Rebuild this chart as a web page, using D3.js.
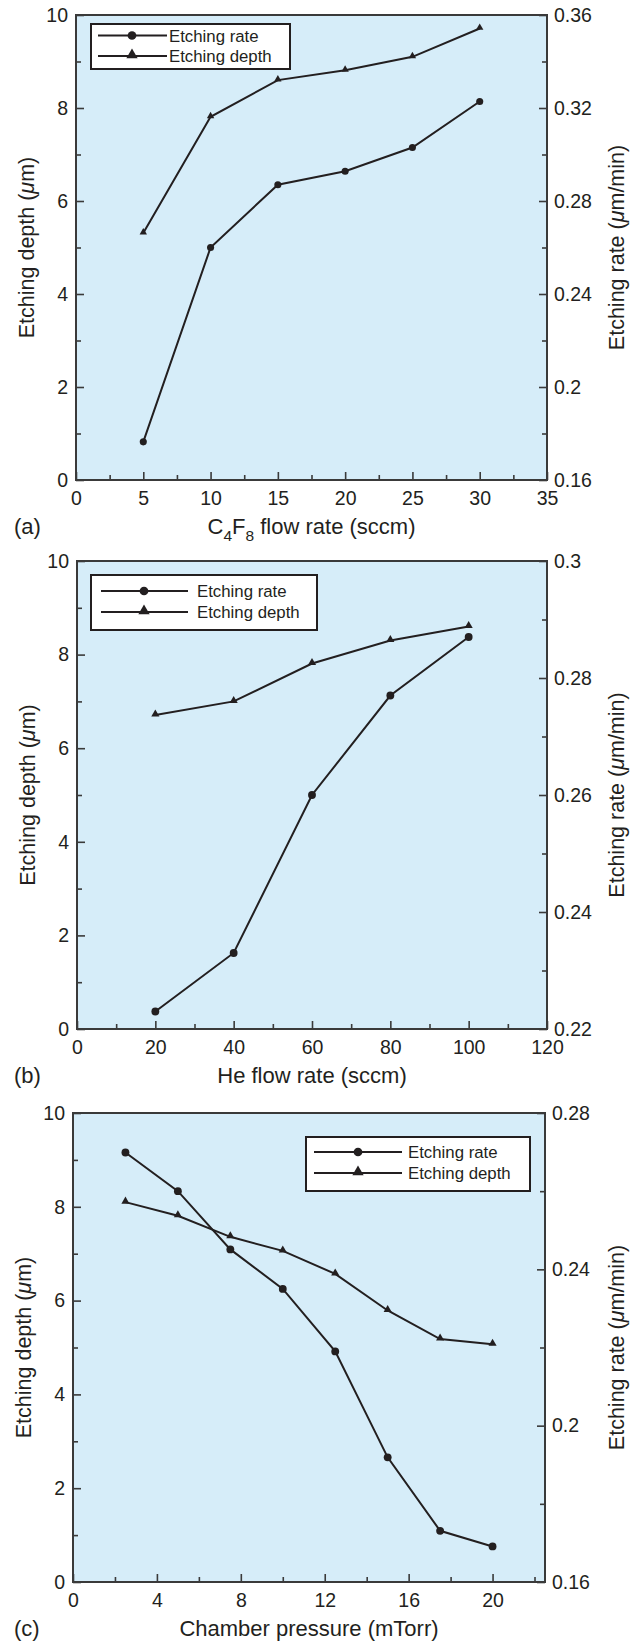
<!DOCTYPE html>
<html>
<head>
<meta charset="utf-8">
<script src="https://cdn.jsdelivr.net/npm/d3@7"></script>
<style>
  html, body { margin: 0; padding: 0; background: #ffffff; }
  svg { display: block; }
  text { font-family: "Liberation Sans", Arial, sans-serif; fill: #231f20; }
</style>
</head>
<body>
<svg id="chart" width="638" height="1642"></svg>
<script>
// ---------------- DATA ----------------
const panelLabels = ["(a)", "(b)", "(c)"];
const seriesNames = ["Etching rate", "Etching depth"];

// (a) C4F8 flow rate
const aFlow  = [5, 10, 15, 20, 25, 30];
const aDepth = [5.31, 7.81, 8.60, 8.81, 9.10, 9.71];          // µm (left axis)
const aRate  = [0.1764, 0.260, 0.287, 0.2928, 0.303, 0.3228]; // µm/min (right axis)

// (b) He flow rate
const bFlow  = [20, 40, 60, 80, 100];
const bDepth = [6.71, 7.00, 7.81, 8.30, 8.60];
const bRate  = [0.223, 0.233, 0.260, 0.277, 0.287];

// (c) Chamber pressure
const cPressure = [2.5, 5, 7.5, 10, 12.5, 15, 17.5, 20];
const cDepth    = [8.10, 7.81, 7.36, 7.06, 6.57, 5.79, 5.18, 5.07];
const cRate     = [0.2699, 0.260, 0.2451, 0.235, 0.219, 0.1919, 0.1731, 0.1691];

// ticks
const depthMajor = [0, 2, 4, 6, 8, 10];
const depthMinor = [1, 3, 5, 7, 9];

const aXMajor = [0, 5, 10, 15, 20, 25, 30, 35];
const aXMinor = [2.5, 7.5, 12.5, 17.5, 22.5, 27.5, 32.5];
const aRMajor = [0.16, 0.20, 0.24, 0.28, 0.32, 0.36];
const aRLabels = ["0.16", "0.2", "0.24", "0.28", "0.32", "0.36"];
const aRMinor = [0.18, 0.22, 0.26, 0.30, 0.34];

const bXMajor = [0, 20, 40, 60, 80, 100, 120];
const bXMinor = [10, 30, 50, 70, 90, 110];
const bRMajor = [0.22, 0.24, 0.26, 0.28, 0.30];
const bRLabels = ["0.22", "0.24", "0.26", "0.28", "0.3"];
const bRMinor = [0.23, 0.25, 0.27, 0.29];

const cXMajor = [0, 4, 8, 12, 16, 20];
const cXMinor = [2, 6, 10, 14, 18, 22];
const cRMajor = [0.16, 0.20, 0.24, 0.28];
const cRLabels = ["0.16", "0.2", "0.24", "0.28"];
const cRMinor = [0.18, 0.22, 0.26];

// ---------------- LAYOUT / STYLE ----------------
const ink = "#231f20";
const fillBg = "#d6edf9";

const panels = [
  { label: panelLabels[0], x: aFlow, depth: aDepth, rate: aRate,
    xDomain: [0, 35], rDomain: [0.16, 0.36],
    xMajor: aXMajor, xMinor: aXMinor, rMajor: aRMajor, rLabels: aRLabels, rMinor: aRMinor,
    xTitle: "C4F8", box: {l: 76, r: 547, t: 15, b: 480},
    legend: {x: 91, y: 24, w: 199, h: 45, lx0: 98, lx1: 167, mx: 132, tx: 169, row0: 35.5, row1: 56},
    ms: 0.9 },
  { label: panelLabels[1], x: bFlow, depth: bDepth, rate: bRate,
    xDomain: [0, 120], rDomain: [0.22, 0.30],
    xMajor: bXMajor, xMinor: bXMinor, rMajor: bRMajor, rLabels: bRLabels, rMinor: bRMinor,
    xTitle: "He flow rate (sccm)", box: {l: 77, r: 547, t: 561, b: 1029},
    legend: {x: 91, y: 575, w: 226, h: 55, lx0: 101, lx1: 188, mx: 144, tx: 197, row0: 591, row1: 612},
    ms: 1.1 },
  { label: panelLabels[2], x: cPressure, depth: cDepth, rate: cRate,
    xDomain: [0, 22.5], rDomain: [0.16, 0.28],
    xMajor: cXMajor, xMinor: cXMinor, rMajor: cRMajor, rLabels: cRLabels, rMinor: cRMinor,
    xTitle: "Chamber pressure (mTorr)", box: {l: 73, r: 545, t: 1113, b: 1582},
    legend: {x: 306, y: 1137, w: 224, h: 54, lx0: 314, lx1: 402, mx: 358, tx: 408, row0: 1152, row1: 1173},
    ms: 1.1 }
];

const svg = d3.select("#chart");

panels.forEach(p => {
  const {l, r, t, b} = p.box;
  const x = d3.scaleLinear().domain(p.xDomain).range([l, r]);
  const yL = d3.scaleLinear().domain([0, 10]).range([b, t]);
  const yR = d3.scaleLinear().domain(p.rDomain).range([b, t]);

  const g = svg.append("g");

  // background
  g.append("rect").attr("x", l).attr("y", t).attr("width", r - l).attr("height", b - t)
    .attr("fill", fillBg);

  // axes (inward ticks)
  const styleAxis = sel => {
    sel.select(".domain").remove();
    sel.selectAll(".tick line").attr("stroke", "#3a3a3a").attr("stroke-width", 1.6);
    sel.selectAll(".tick text").attr("font-size", 19.5).attr("fill", ink)
      .style("font-family", '"Liberation Sans", Arial, sans-serif');
  };

  g.append("g").attr("transform", `translate(0,${b})`)
    .call(d3.axisBottom(x).tickValues(p.xMajor).tickSize(-8).tickPadding(11).tickFormat(d3.format("~g")))
    .call(styleAxis);
  g.append("g").attr("transform", `translate(0,${b})`)
    .call(d3.axisBottom(x).tickValues(p.xMinor).tickSize(-5).tickFormat(""))
    .call(styleAxis);

  g.append("g").attr("transform", `translate(${l},0)`)
    .call(d3.axisLeft(yL).tickValues(depthMajor).tickSize(-8).tickPadding(8).tickFormat(d3.format("~g")))
    .call(styleAxis);
  g.append("g").attr("transform", `translate(${l},0)`)
    .call(d3.axisLeft(yL).tickValues(depthMinor).tickSize(-5).tickFormat(""))
    .call(styleAxis);

  g.append("g").attr("transform", `translate(${r},0)`)
    .call(d3.axisRight(yR).tickValues(p.rMajor).tickSize(-8).tickPadding(7)
      .tickFormat((d, i) => p.rLabels[i]))
    .call(styleAxis);
  g.append("g").attr("transform", `translate(${r},0)`)
    .call(d3.axisRight(yR).tickValues(p.rMinor).tickSize(-5).tickFormat(""))
    .call(styleAxis);

  // frame
  g.append("rect").attr("x", l).attr("y", t).attr("width", r - l).attr("height", b - t)
    .attr("fill", "none").attr("stroke", "#3a3a3a").attr("stroke-width", 2);

  // data lines
  const depthPts = p.x.map((v, i) => [x(v), yL(p.depth[i])]);
  const ratePts  = p.x.map((v, i) => [x(v), yR(p.rate[i])]);
  const line = d3.line();
  g.append("path").attr("d", line(depthPts)).attr("fill", "none")
    .attr("stroke", ink).attr("stroke-width", 2);
  g.append("path").attr("d", line(ratePts)).attr("fill", "none")
    .attr("stroke", ink).attr("stroke-width", 2);

  const tri = d3.symbol().type(d3.symbolTriangle).size(26 * p.ms);
  const cir = d3.symbol().type(d3.symbolCircle).size(44 * p.ms);
  g.selectAll(".tri").data(depthPts).join("path")
    .attr("d", tri).attr("transform", d => `translate(${d[0]},${d[1] - 0.8})`).attr("fill", ink);
  g.selectAll(".cir").data(ratePts).join("path")
    .attr("d", cir).attr("transform", d => `translate(${d[0]},${d[1]})`).attr("fill", ink);

  // legend
  const L = p.legend;
  g.append("rect").attr("x", L.x).attr("y", L.y).attr("width", L.w).attr("height", L.h)
    .attr("fill", "#ffffff").attr("stroke", ink).attr("stroke-width", 2);
  [[L.row0, seriesNames[0]], [L.row1, seriesNames[1]]].forEach(([yy, name], k) => {
    g.append("line").attr("x1", L.lx0).attr("x2", L.lx1).attr("y1", yy).attr("y2", yy)
      .attr("stroke", ink).attr("stroke-width", 1.8);
    g.append("path").attr("d", k === 0 ? d3.symbol().type(d3.symbolCircle).size(60)()
                                       : d3.symbol().type(d3.symbolTriangle).size(55)())
      .attr("transform", `translate(${L.mx},${yy - (k === 1 ? 1 : 0)})`).attr("fill", ink);
    g.append("text").attr("x", L.tx).attr("y", yy).attr("dy", "0.36em")
      .attr("font-size", 16.8).text(name);
  });

  // x title
  const xt = g.append("text").attr("x", (l + r) / 2).attr("y", b + 46).attr("dy", "0.36em")
    .attr("text-anchor", "middle").attr("font-size", 22);
  if (p.xTitle === "C4F8") {
    xt.append("tspan").text("C");
    xt.append("tspan").attr("font-size", 15.5).attr("dy", "0.45em").text("4");
    xt.append("tspan").attr("dy", "-0.3em").text("F");
    xt.append("tspan").attr("font-size", 15.5).attr("dy", "0.42em").text("8");
    xt.append("tspan").attr("dy", "-0.3em").text(" flow rate (sccm)");
  } else {
    xt.text(p.xTitle);
  }

  // panel label
  g.append("text").attr("x", 14).attr("y", b + 46).attr("dy", "0.36em")
    .attr("font-size", 22).text(p.label);

  // y titles
  const cy = (t + b) / 2;
  const lt = g.append("text").attr("transform", `translate(${l - 50},${cy}) rotate(-90)`)
    .attr("text-anchor", "middle").attr("dy", "0.36em").attr("font-size", 21.5);
  lt.append("tspan").text("Etching depth (");
  lt.append("tspan").attr("font-style", "italic").text("μ");
  lt.append("tspan").text("m)");

  const rt = g.append("text").attr("transform", `translate(${616},${cy}) rotate(-90)`)
    .attr("text-anchor", "middle").attr("dy", "0.36em").attr("font-size", 21.5);
  rt.append("tspan").text("Etching rate (");
  rt.append("tspan").attr("font-style", "italic").text("μ");
  rt.append("tspan").text("m/min)");
});
</script>
</body>
</html>
